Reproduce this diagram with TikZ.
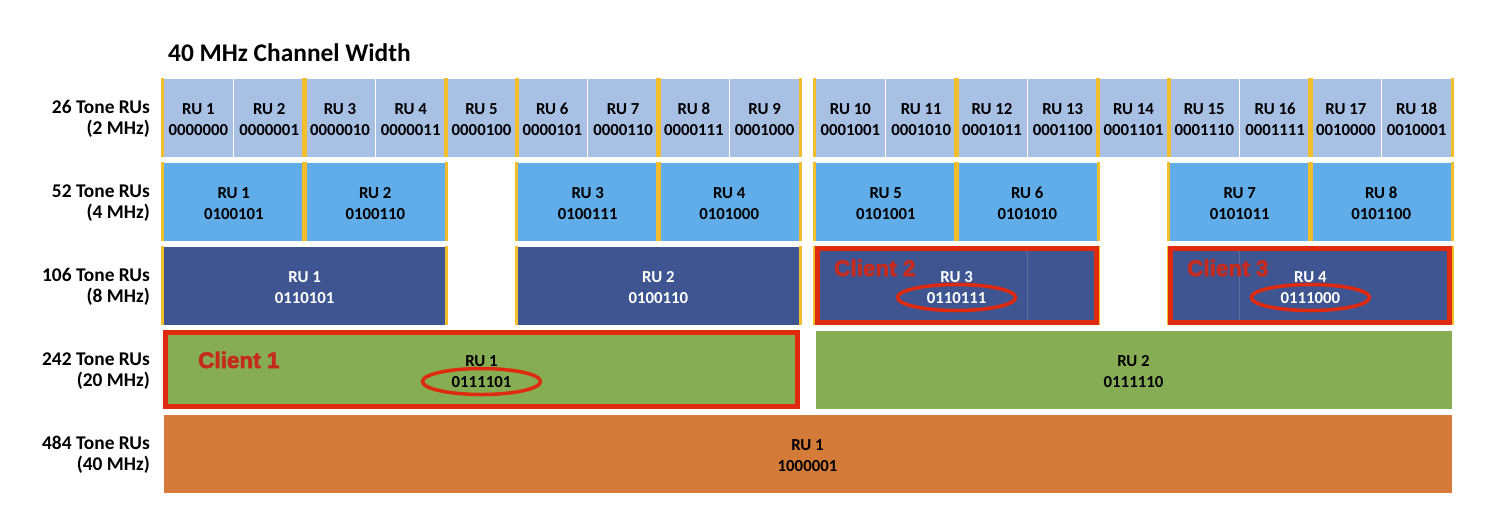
\documentclass[tikz,border=0pt]{standalone}
\usepackage{fontspec}
\setmainfont{Carlito}
\newfontfamily\clientfont{Liberation Sans}[BoldFeatures={FakeBold=2.5}]
\usetikzlibrary{shapes.geometric}
\definecolor{ToneA}{HTML}{A7C0E3}
\definecolor{ToneB}{HTML}{60ADE9}
\definecolor{ToneC}{HTML}{3F5592}
\definecolor{ToneD}{HTML}{86AD53}
\definecolor{ToneE}{HTML}{D57B3A}
\definecolor{MyGold}{HTML}{F2BE2C}
\definecolor{MyRed}{HTML}{E02A10}
\definecolor{MyDarkRed}{HTML}{C52A1C}
\tikzset{every picture/.style={/utils/exec={\bfseries}}}

\begin{document}
\begin{tikzpicture} [x=1pt, y=-1pt,
			ru/.style={draw=white,line width=0.8pt,rectangle,inner sep=0pt,minimum height=79pt,align=center,text height=35pt,text depth=0pt,font=\fontsize{16.8}{21}\selectfont},
			tone26/.style={ru,fill=ToneA,minimum width=70.78pt},
			tone52/.style={ru,fill=ToneB,minimum width=141.56pt},
			tone106/.style={ru,fill=ToneC,minimum width=283.1pt,text=white},
			tone242/.style={ru,fill=ToneD,minimum width=637pt},
			tone484/.style={ru,fill=ToneE,minimum width=1289pt},
			legend/.style={align=right,anchor=east,inner sep=0pt,text height=37pt,text depth=4pt,font=\fontsize{19.4}{21}\selectfont},
			gold/.style={draw=MyGold,line width=3.5pt},
			client/.style={draw=MyRed,line width=5pt},
			clientlabel/.style={anchor=west,inner sep=0pt,text=MyDarkRed,font=\clientfont\bfseries\fontsize{22.5}{22.5}\selectfont},
			ring/.style={draw=MyRed,line width=3.5pt,ellipse,minimum width=118pt,minimum height=26pt,inner sep=0pt}
		]
			\useasboundingbox (0,0) rectangle (1499,531);
			\node at (168,53) [anchor=west,inner sep=0pt,font=\fontsize{25.4}{30}\selectfont] (title) {40 MHz Channel Width};
			% row labels
			\node at (150,117.5) [legend] (leg26) {26 Tone RUs\\(2 MHz)};
			\node at (150,201.5) [legend] (leg52) {52 Tone RUs\\(4 MHz)};
			\node at (150,285.5) [legend] (leg106) {106 Tone RUs\\(8 MHz)};
			\node at (150,369.5) [legend] (leg242) {242 Tone RUs\\(20 MHz)};
			\node at (150,453.5) [legend] (leg484) {484 Tone RUs\\(40 MHz)};
			% 26 tone
			\node at (198.4,117.5) [tone26] (a1) {RU 1\\0000000};
			\node at (269.2,117.5) [tone26] (a2) {RU 2\\0000001};
			\node at (340.0,117.5) [tone26] (a3) {RU 3\\0000010};
			\node at (410.7,117.5) [tone26] (a4) {RU 4\\0000011};
			\node at (481.5,117.5) [tone26] (a5) {RU 5\\0000100};
			\node at (552.3,117.5) [tone26] (a6) {RU 6\\0000101};
			\node at (623.1,117.5) [tone26] (a7) {RU 7\\0000110};
			\node at (693.9,117.5) [tone26] (a8) {RU 8\\0000111};
			\node at (764.6,117.5) [tone26] (a9) {RU 9\\0001000};
			\node at (850.4,117.5) [tone26] (a10) {RU 10\\0001001};
			\node at (921.2,117.5) [tone26] (a11) {RU 11\\0001010};
			\node at (992.0,117.5) [tone26] (a12) {RU 12\\0001011};
			\node at (1062.7,117.5) [tone26] (a13) {RU 13\\0001100};
			\node at (1133.5,117.5) [tone26] (a14) {RU 14\\0001101};
			\node at (1204.3,117.5) [tone26] (a15) {RU 15\\0001110};
			\node at (1275.1,117.5) [tone26] (a16) {RU 16\\0001111};
			\node at (1345.9,117.5) [tone26] (a17) {RU 17\\0010000};
			\node at (1416.6,117.5) [tone26] (a18) {RU 18\\0010001};
			% 52 tone
			\node at (233.8,201.5) [tone52] (b1) {RU 1\\0100101};
			\node at (375.3,201.5) [tone52] (b2) {RU 2\\0100110};
			\node at (587.7,201.5) [tone52] (b3) {RU 3\\0100111};
			\node at (729.2,201.5) [tone52] (b4) {RU 4\\0101000};
			\node at (885.8,201.5) [tone52] (b5) {RU 5\\0101001};
			\node at (1027.3,201.5) [tone52] (b6) {RU 6\\0101010};
			\node at (1239.7,201.5) [tone52] (b7) {RU 7\\0101011};
			\node at (1381.2,201.5) [tone52] (b8) {RU 8\\0101100};
			% 106 tone
			\node at (304.6,285.5) [tone106] (c1) {RU 1\\0110101};
			\node at (658.4,285.5) [tone106] (c2) {RU 2\\0100110};
			\node at (956.6,285.5) [tone106] (c3) {RU 3\\0110111};
			\node at (1310.4,285.5) [tone106] (c4) {RU 4\\0111000};
			% 242 and 484 tone
			\node at (481.5,369.5) [tone242] (d1) {RU 1\\0111101};
			\node at (1133.5,369.5) [tone242] (d2) {RU 2\\0111110};
			\node at (807.5,453.5) [tone484] (e1) {RU 1\\1000001};
			% gold edges
			\foreach \n in {a1,a3,a5,a6,a8,a10,a12,a14,a15,a17,b1,b2,b3,b4,b5,b6,b7,b8,c1,c2,c3,c4}
				\draw[gold] (\n.north west) -- (\n.south west);
			\foreach \n in {a2,a4,a5,a7,a9,a11,a13,a14,a16,a18,b1,b2,b3,b4,b5,b6,b7,b8,c1,c2,c3,c4}
				\draw[gold] (\n.north east) -- (\n.south east);
			\draw[ToneC!85!white,line width=0.6pt] ([xshift=212.3pt]c3.north west) -- ([xshift=212.3pt]c3.south west);
			\draw[ToneC!85!white,line width=0.6pt] ([xshift=70.8pt]c4.north west) -- ([xshift=70.8pt]c4.south west);
			% clients
			\draw[client] ([shift={(2.5,2.5)}]d1.north west) rectangle ([shift={(-2.5,-2.5)}]d1.south east);
			\draw[client] ([shift={(2.5,2.5)}]c3.north west) rectangle ([shift={(-2.5,-2.5)}]c3.south east);
			\draw[client] ([shift={(2.5,2.5)}]c4.north west) rectangle ([shift={(-2.5,-2.5)}]c4.south east);
			\node at ([yshift=-12pt]d1.center) [ring] (ring1) {};
			\node at ([yshift=-12pt]c3.center) [ring] (ring2) {};
			\node at ([yshift=-12pt]c4.center) [ring] (ring3) {};
			\node at (198,360) [clientlabel] (client1) {Client 1};
			\node at (834,268) [clientlabel] (client2) {Client 2};
			\node at (1187,268) [clientlabel] (client3) {Client 3};
		\end{tikzpicture}
\end{document}
